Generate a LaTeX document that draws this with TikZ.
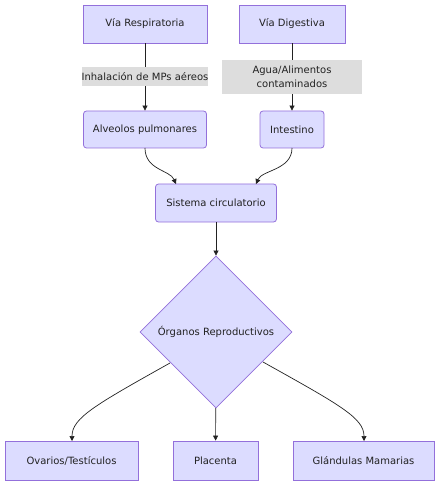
\documentclass[tikz,border=0pt]{standalone}
\usepackage{fontspec}
\setmainfont{DejaVu Sans}
\usetikzlibrary{arrows.meta,shapes.geometric}
\definecolor{nodefill}{HTML}{DCDCFF}
\definecolor{nodeline}{HTML}{9370DB}
\definecolor{lblfill}{HTML}{DDDDDD}
\definecolor{ink}{HTML}{222222}
\begin{document}
\begin{tikzpicture}[x=1pt,y=-1pt,
  box/.style={draw=nodeline,fill=nodefill,line width=0.8pt,text=ink,font=\fontsize{10}{12}\selectfont,inner sep=0pt},
  rbox/.style={box,rounded corners=3pt},
  lbl/.style={fill=lblfill,text=ink,font=\fontsize{10}{14.5}\selectfont,inner sep=0pt,align=center},
  dia/.style={box,diamond,aspect=1,minimum width=152pt,minimum height=152pt},
  conn/.style={draw=ink,line width=0.7pt,-{Triangle[length=5pt,width=5pt]}}
]
\useasboundingbox (0,0) rectangle (440,486);
\node[box,minimum width=124pt,minimum height=38pt] (vr) at (145,24) {Vía Respiratoria};
\node[box,minimum width=106pt,minimum height=38pt] (vd) at (292,24) {Vía Digestiva};
\node[rbox,minimum width=123pt,minimum height=37pt] (alv) at (145,129.5) {Alveolos pulmonares};
\node[rbox,minimum width=64pt,minimum height=37pt] (int) at (292,129.5) {Intestino};
\node[rbox,minimum width=121pt,minimum height=38pt] (sc) at (216,203) {Sistema circulatorio};
\node[dia] (org) at (216,332) {Órganos Reproductivos};
\node[box,minimum width=133pt,minimum height=39pt] (ov) at (71.5,460.5) {Ovarios/Testículos};
\node[box,minimum width=85pt,minimum height=39pt] (pl) at (215.5,460.5) {Placenta};
\node[box,minimum width=141pt,minimum height=39pt] (gl) at (363.5,460.5) {Glándulas Mamarias};
\draw[conn] (vr) -- (alv);
\draw[conn] (vd) -- (int);
\node[lbl,minimum width=125pt,minimum height=19pt] (l1) at (145,76.5) {Inhalación de MPs aéreos};
\node[lbl,minimum width=140pt,minimum height=34pt] (l2) at (292,77) {Agua/Alimentos\\contaminados};
\coordinate (a1) at (145,148);
\coordinate (a2) at (176,184);
\coordinate (b1) at (292,148);
\coordinate (b2) at (256,184);
\draw[conn] (a1) .. controls (145,170) and (170,170) .. (a2);
\draw[conn] (b1) .. controls (292,170) and (262,170) .. (b2);
\draw[conn] (sc) -- (org);
\coordinate (o1) at (170,363);
\coordinate (o2) at (72,441);
\coordinate (g1) at (263,362);
\coordinate (g2) at (364,441);
\draw[conn] (o1) .. controls (95,405) and (72,418) .. (o2);
\draw[conn] (g1) .. controls (340,405) and (364,418) .. (g2);
\draw[conn] (org) -- (pl);
\end{tikzpicture}
\end{document}
